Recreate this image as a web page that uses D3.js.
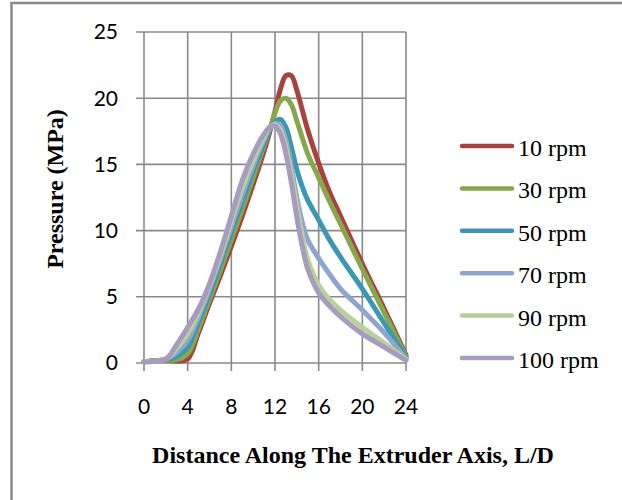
<html>
<head>
  <title>Pressure along the extruder axis</title>
  <script src="https://d3js.org/d3.v7.min.js"></script>
  <style>
    body { margin: 0; background: #fff; }
  </style>
</head>
<body>
<script>
// distance along the axis (L/D) shared by all series
var dist = [0, 2, 3, 4, 5, 6, 7, 8, 9, 10, 11, 11.5, 12, 12.5, 13, 13.5, 14, 14.5, 15, 16, 17, 18, 20, 22, 24];

// pressure (MPa) per screw speed
var rpm10  = [0.1, 0.2, 0.15, 0.3, 2.3, 4.5, 6.6, 8.8, 11.1, 13.5, 16.0, 17.4, 19.0, 20.7, 21.7, 21.7, 20.6, 19.1, 17.6, 15.1, 12.9, 11.1, 7.5, 4.1, 0.6];
var rpm30  = [0.1, 0.2, 0.25, 0.7, 2.6, 4.8, 7.0, 9.3, 11.6, 14.0, 16.4, 17.6, 18.9, 19.8, 20.0, 19.5, 18.3, 17.0, 15.8, 14.0, 12.2, 10.5, 7.1, 3.8, 0.5];
var rpm50  = [0.1, 0.25, 0.5, 1.2, 3.1, 5.2, 7.5, 9.9, 12.2, 14.5, 16.6, 17.6, 18.2, 18.4, 17.8, 16.3, 14.6, 13.3, 12.3, 10.8, 9.3, 8.0, 5.6, 3.0, 0.4];
var rpm70  = [0.1, 0.3, 0.8, 1.7, 3.5, 5.6, 7.9, 10.3, 12.7, 14.9, 16.9, 17.7, 18.1, 17.9, 16.8, 14.8, 12.5, 10.6, 9.3, 7.9, 6.7, 5.6, 4.0, 2.3, 0.3];
var rpm90  = [0.1, 0.3, 1.1, 2.2, 3.8, 5.8, 8.1, 10.7, 13.2, 15.3, 17.1, 17.8, 18.0, 17.6, 16.3, 14.3, 11.9, 9.6, 7.8, 5.9, 4.8, 4.0, 2.7, 1.5, 0.3];
var rpm100 = [0.1, 0.3, 1.4, 2.7, 4.1, 6.0, 8.4, 11.1, 13.8, 15.8, 17.3, 17.8, 17.9, 17.3, 15.8, 13.6, 11.0, 8.8, 7.1, 5.3, 4.3, 3.5, 2.2, 1.2, 0.2];

var seriesNames = ["10 rpm", "30 rpm", "50 rpm", "70 rpm", "90 rpm", "100 rpm"];
var seriesValues = [rpm10, rpm30, rpm50, rpm70, rpm90, rpm100];
var colors = ["#a8423f", "#86a84a", "#3c97b2", "#8ea6cf", "#b8d09a", "#a79bc0"];

var xTicks = [0, 4, 8, 12, 16, 20, 24];
var yTicks = [0, 5, 10, 15, 20, 25];

var width = 622, height = 500;
var plotLeft = 144, plotRight = 406, plotTop = 32, plotBottom = 363;

var svg = d3.select("body").append("svg")
  .attr("width", width)
  .attr("height", height);

// outer frame (only left and top edges fall inside the picture)
svg.append("rect")
  .attr("x", 11.5).attr("y", 3)
  .attr("width", 700).attr("height", 600)
  .attr("fill", "none")
  .attr("stroke", "#8a8a8a")
  .attr("stroke-width", 2.5);

var x = d3.scaleLinear().domain([0, 24]).range([plotLeft, plotRight]);
var y = d3.scaleLinear().domain([0, 25]).range([plotBottom, plotTop]);

var grid = "#8a8a8a";

// vertical grid + ticks below
svg.append("g").selectAll("line").data(xTicks).enter().append("line")
  .attr("x1", d => x(d)).attr("x2", d => x(d))
  .attr("y1", plotTop).attr("y2", plotBottom + 8)
  .attr("stroke", grid).attr("stroke-width", 1.6);

// horizontal grid + ticks to the left
svg.append("g").selectAll("line").data(yTicks).enter().append("line")
  .attr("x1", plotLeft - 8).attr("x2", plotRight)
  .attr("y1", d => y(d)).attr("y2", d => y(d))
  .attr("stroke", grid).attr("stroke-width", 1.6);

// tick labels
svg.append("g").selectAll("text").data(yTicks).enter().append("text")
  .attr("x", 118).attr("y", d => y(d))
  .attr("dy", "0.35em")
  .attr("text-anchor", "end")
  .style("font-family", "Lato, 'Open Sans', sans-serif")
  .style("font-size", "21px")
  .text(d => d);

svg.append("g").selectAll("text").data(xTicks).enter().append("text")
  .attr("x", d => x(d)).attr("y", 414)
  .attr("text-anchor", "middle")
  .style("font-family", "Lato, 'Open Sans', sans-serif")
  .style("font-size", "21px")
  .text(d => d);

// axis titles
svg.append("text")
  .attr("x", 353).attr("y", 463)
  .attr("text-anchor", "middle")
  .style("font-family", "'Liberation Serif', serif")
  .style("font-weight", "bold")
  .style("font-size", "24px")
  .text("Distance Along The Extruder Axis, L/D");

svg.append("text")
  .attr("transform", "translate(63,189) rotate(-90)")
  .attr("text-anchor", "middle")
  .style("font-family", "'Liberation Serif', serif")
  .style("font-weight", "bold")
  .style("font-size", "24px")
  .text("Pressure (MPa)");

// curves
var line = d3.line()
  .x(d => x(d[0]))
  .y(d => y(d[1]))
  .curve(d3.curveCatmullRom.alpha(0.5));

seriesValues.forEach(function(vals, i) {
  svg.append("path")
    .datum(dist.map((L, j) => [L, vals[j]]))
    .attr("fill", "none")
    .attr("stroke", colors[i])
    .attr("stroke-width", 5)
    .attr("stroke-linejoin", "round")
    .attr("stroke-linecap", "round")
    .attr("d", line);
});

// legend
var legend = svg.append("g").selectAll("g").data(seriesNames).enter().append("g")
  .attr("transform", (d, i) => "translate(0," + (146 + i * 42.4) + ")");

legend.append("line")
  .attr("x1", 462).attr("x2", 512)
  .attr("stroke", (d, i) => colors[i])
  .attr("stroke-width", 4.5)
  .attr("stroke-linecap", "round");

legend.append("text")
  .attr("x", 518).attr("y", 10)
  .style("font-family", "'Liberation Serif', serif")
  .style("font-size", "24px")
  .text(d => d);
</script>
</body>
</html>
